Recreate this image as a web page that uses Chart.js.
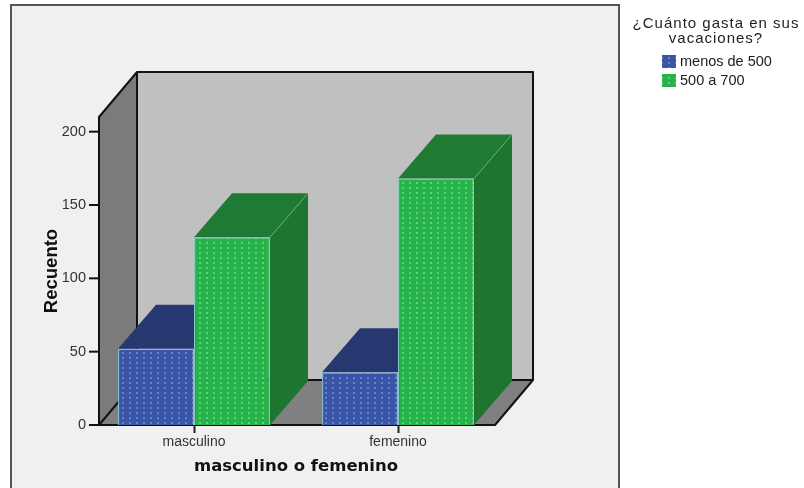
<!DOCTYPE html>
<html>
<head>
<meta charset="utf-8">
<style>
  html, body { margin: 0; padding: 0; background: #fff; }
  #wrap { position: relative; width: 804px; height: 488px; overflow: hidden; }
</style>
<script src="https://cdn.jsdelivr.net/npm/chart.js@4/dist/chart.umd.js"></script>
</head>
<body>
<div id="wrap"><canvas id="chart" width="804" height="488"></canvas></div>
<script>
// Data
const categories = ["masculino", "femenino"];
const menosDe500 = [52, 36];
const de500a700 = [128, 168];
const yTicks = [0, 50, 100, 150, 200];
const legendTitle = ["¿Cuánto gasta en sus", "vacaciones?"];
const xTitle = "masculino o femenino";
const yTitle = "Recuento";

// Box depth in pixels
const DX = 38;
const DY = 44;
const WALL_DY = 45;

// Dotted fill for the bar fronts
function dotted(base, dot) {
  const tile = document.createElement("canvas");
  tile.width = 7;
  tile.height = 5;
  const c = tile.getContext("2d");
  c.fillStyle = base;
  c.fillRect(0, 0, 7, 5);
  c.fillStyle = dot;
  c.fillRect(3, 2, 2, 2);
  return c.createPattern(tile, "repeat");
}

function poly(ctx, pts, fill) {
  ctx.beginPath();
  pts.forEach((p, i) => (i ? ctx.lineTo(p[0], p[1]) : ctx.moveTo(p[0], p[1])));
  ctx.closePath();
  ctx.fillStyle = fill;
  ctx.fill();
}

function line(ctx, pts) {
  ctx.beginPath();
  pts.forEach((p, i) => (i ? ctx.lineTo(p[0], p[1]) : ctx.moveTo(p[0], p[1])));
  ctx.stroke();
}

const ctx0 = document.getElementById("chart").getContext("2d");
const blueFront = dotted("#3a55a8", "#6583c4");
const greenFront = dotted("#25b34a", "#62cc85");

// Frame, walls and floor behind the bars
const boxPlugin = {
  id: "box",
  beforeDraw(chart) {
    const ctx = chart.ctx;
    ctx.save();
    ctx.fillStyle = "#f0f0f0";
    ctx.fillRect(11, 5, 608, 490);
    ctx.strokeStyle = "#555";
    ctx.lineWidth = 2;
    ctx.strokeRect(11, 5, 608, 490);
    ctx.restore();
  },
  beforeDatasetsDraw(chart) {
    const ctx = chart.ctx;
    const y = chart.scales.y;
    const area = chart.chartArea;
    const left = area.left + 7;
    const right = area.right - 5;
    const bottom = y.getPixelForValue(0);
    const top = area.top;

    ctx.save();
    poly(ctx, [[left + DX, top - WALL_DY], [right + DX, top - WALL_DY], [right + DX, bottom - WALL_DY], [left + DX, bottom - WALL_DY]], "#c0c0c0");
    poly(ctx, [[left, top], [left + DX, top - WALL_DY], [left + DX, bottom - WALL_DY], [left, bottom]], "#7b7b7b");
    poly(ctx, [[left, bottom], [left + DX, bottom - WALL_DY], [right + DX, bottom - WALL_DY], [right, bottom]], "#808080");

    ctx.strokeStyle = "#111";
    ctx.lineWidth = 2;
    ctx.lineJoin = "round";
    line(ctx, [[left, bottom], [left, top], [left + DX, top - WALL_DY], [right + DX, top - WALL_DY], [right + DX, bottom - WALL_DY], [right, bottom], [left, bottom], [left + DX, bottom - WALL_DY], [left + DX, top - WALL_DY]]);
    line(ctx, [[left + DX, bottom - WALL_DY], [right + DX, bottom - WALL_DY]]);

    // value axis ticks
    y.ticks.forEach((t) => {
      const py = y.getPixelForValue(t.value);
      line(ctx, [[left - 10, py], [left, py]]);
    });

    // tops and right sides of the bars
    const tops = ["#27376f", "#1f7a33"];
    const sides = ["#27376f", "#1d7530"];
    chart.data.datasets.forEach((ds, d) => {
      chart.getDatasetMeta(d).data.forEach((bar) => {
        const l = bar.x - bar.width / 2;
        const r = bar.x + bar.width / 2;
        poly(ctx, [[l, bar.y], [l + DX, bar.y - DY], [r + DX, bar.y - DY], [r, bar.y]], tops[d]);
        poly(ctx, [[r, bar.y], [r + DX, bar.y - DY], [r + DX, bar.base - DY], [r, bar.base]], sides[d]);
        ctx.strokeStyle = "rgba(150,200,170,0.55)";
        ctx.lineWidth = 1;
        line(ctx, [[r, bar.y], [r + DX, bar.y - DY]]);
      });
    });
    ctx.restore();
  },
  // legend block to the right of the frame
  afterDraw(chart) {
    const ctx = chart.ctx;
    ctx.save();
    ctx.fillStyle = "#222";
    ctx.font = "15px 'Liberation Sans'";
    ctx.letterSpacing = "1px";
    ctx.textAlign = "center";
    ctx.textBaseline = "middle";
    legendTitle.forEach((t, i) => ctx.fillText(t, 716, 24 + i * 15));
    ctx.letterSpacing = "0px";
    ctx.font = "14.5px 'Liberation Sans'";
    ctx.textAlign = "left";
    chart.data.datasets.forEach((ds, i) => {
      const ly = 62 + i * 19;
      ctx.fillStyle = ds.backgroundColor;
      ctx.fillRect(662, ly - 7, 14, 13);
      ctx.fillStyle = "#222";
      ctx.fillText(ds.label, 680, ly);
    });
    ctx.restore();
  },
};

new Chart(ctx0, {
  type: "bar",
  plugins: [boxPlugin],
  data: {
    labels: categories,
    datasets: [
      { label: "menos de 500", data: menosDe500, backgroundColor: blueFront, borderColor: "#86bccf", borderWidth: 1.2 },
      { label: "500 a 700", data: de500a700, backgroundColor: greenFront, borderColor: "#86ccc0", borderWidth: 1.2 },
    ],
  },
  options: {
    responsive: false,
    animation: false,
    layout: { padding: { left: 38, right: 304, top: 117, bottom: 0 } },
    plugins: { legend: { display: false }, tooltip: { enabled: false } },
    datasets: { bar: { categoryPercentage: 0.745, barPercentage: 1 } },
    scales: {
      x: {
        grid: { offset: false, drawOnChartArea: false, tickLength: 8, color: "#222", tickWidth: 2 },
        border: { display: false },
        ticks: { color: "#333", font: { family: "'Liberation Sans'", size: 14 }, padding: 1, maxRotation: 0 },
        title: { display: true, text: xTitle, color: "#111", font: { family: "'DejaVu Sans'", size: 16.5, weight: "bold" }, padding: { top: 4, bottom: 11 } },
        afterFit(scale) { scale.height = 63; },
      },
      y: {
        min: 0,
        max: 210,
        afterBuildTicks(scale) { scale.ticks = yTicks.map((v) => ({ value: v })); },
        grid: { display: false, drawTicks: false, tickLength: 0 },
        border: { display: false },
        ticks: { color: "#333", font: { family: "'Liberation Sans'", size: 14.5 }, padding: 6 },
        title: { display: true, text: yTitle, color: "#111", font: { family: "'Liberation Sans'", size: 18.5, weight: "bold" }, padding: { top: 3, bottom: 6 } },
        afterFit(scale) { scale.width = 54; },
      },
    },
  },
});
</script>
</body>
</html>
